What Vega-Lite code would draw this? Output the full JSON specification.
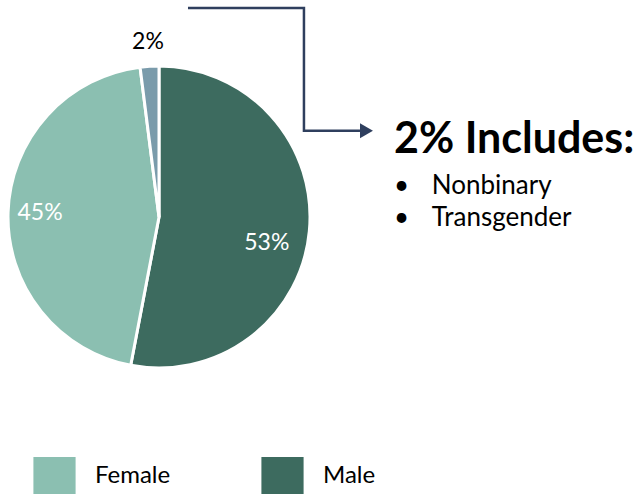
{
  "$schema": "https://vega.github.io/schema/vega-lite/v6.json",
  "width": 318,
  "height": 434,
  "autosize": {"type": "none"},
  "padding": {"left": 0, "top": 0, "right": 325, "bottom": 62},
  "background": "white",
  "config": {"view": {"stroke": null}, "font": "Lato"},
  "title": {
    "text": "2% Includes:",
    "subtitle": ["•\u2003\u2009Nonbinary", "•\u2003\u2009Transgender"],
    "anchor": "start",
    "frame": "group",
    "orient": "top",
    "dx": 394,
    "offset": -231,
    "font": "Lato",
    "fontSize": 43,
    "fontWeight": "bold",
    "color": "#000000",
    "subtitleFont": "Lato",
    "subtitleFontSize": 26,
    "subtitleColor": "#000000",
    "subtitleLineHeight": 32,
    "subtitlePadding": 11
  },
  "layer": [
    {
      "data": {"name": "shares", "values": [
        {"category": "Male", "pct": 53, "label": "53%", "seq": 1},
        {"category": "Female", "pct": 45, "label": "45%", "seq": 2},
        {"category": "Other", "pct": 2, "label": "2%", "seq": 3}
      ]},
      "mark": {"type": "arc", "outerRadius": 151, "stroke": "white", "strokeWidth": 3},
      "encoding": {
        "theta": {"field": "pct", "type": "quantitative", "stack": true},
        "order": {"field": "seq", "type": "quantitative"},
        "color": {
          "field": "category",
          "type": "nominal",
          "scale": {"domain": ["Male", "Female", "Other"], "range": ["#3d6b5f", "#8bbfb1", "#7a9bab"]},
          "legend": {
            "values": ["Female", "Male"],
            "title": null,
            "orient": "none",
            "direction": "horizontal",
            "legendX": 36,
            "legendY": 457,
            "padding": 0,
            "symbolType": "M-1.14,-1H1.14V1H-1.14Z",
            "symbolSize": 1369,
            "symbolStrokeWidth": 0,
            "symbolOpacity": 1,
            "labelFont": "Lato",
            "labelFontSize": 24,
            "labelColor": "#000000",
            "labelOffset": 22,
            "labelBaseline": "middle",
            "columnPadding": 90
          }
        }
      }
    },
    {
      "data": {"name": "shares"},
      "mark": {"type": "text", "font": "Lato", "fontSize": 23, "color": "#ffffff"},
      "encoding": {
        "theta": {"field": "pct", "type": "quantitative", "stack": true},
        "order": {"field": "seq", "type": "quantitative"},
        "text": {"field": "label"},
        "radius": {"value": 119},
        "opacity": {"condition": {"test": "datum.category === 'Female'", "value": 1}, "value": 0}
      }
    },
    {
      "data": {"name": "shares"},
      "mark": {"type": "text", "font": "Lato", "fontSize": 23, "color": "#000000"},
      "encoding": {
        "theta": {"field": "pct", "type": "quantitative", "stack": true},
        "order": {"field": "seq", "type": "quantitative"},
        "text": {"field": "label"},
        "radius": {"value": 175},
        "opacity": {"condition": {"test": "datum.category === 'Other'", "value": 1}, "value": 0}
      }
    },
    {
      "data": {"name": "shares"},
      "mark": {"type": "text", "font": "Lato", "fontSize": 23, "color": "#ffffff", "thetaOffset": 0.145},
      "encoding": {
        "theta": {"field": "pct", "type": "quantitative", "stack": true},
        "order": {"field": "seq", "type": "quantitative"},
        "text": {"field": "label"},
        "radius": {"value": 111},
        "opacity": {"condition": {"test": "datum.category === 'Male'", "value": 1}, "value": 0}
      }
    },
    {
      "data": {"values": [
        {"step": 1, "px": 0.192, "py": 1.384},
        {"step": 2, "px": 0.960, "py": 1.384},
        {"step": 3, "px": 0.960, "py": 0.5715},
        {"step": 4, "px": 1.331, "py": 0.5715}
      ]},
      "mark": {"type": "line", "color": "#2f3f5e", "strokeWidth": 2.5, "strokeCap": "butt", "strokeJoin": "miter"},
      "encoding": {
        "x": {"field": "px", "type": "quantitative", "scale": {"domain": [-1.053, 1.053], "nice": false, "zero": false}, "axis": null},
        "y": {"field": "py", "type": "quantitative", "scale": {"domain": [-1.437, 1.437], "nice": false, "zero": false}, "axis": null},
        "order": {"field": "step", "type": "quantitative"}
      }
    },
    {
      "data": {"values": [{"px": 1.374, "py": 0.5715}]},
      "mark": {"type": "point", "shape": "triangle-right", "filled": true, "opacity": 1, "color": "#2f3f5e", "size": 225},
      "encoding": {
        "x": {"field": "px", "type": "quantitative", "scale": {"domain": [-1.053, 1.053], "nice": false, "zero": false}, "axis": null},
        "y": {"field": "py", "type": "quantitative", "scale": {"domain": [-1.437, 1.437], "nice": false, "zero": false}, "axis": null}
      }
    }
  ]
}
